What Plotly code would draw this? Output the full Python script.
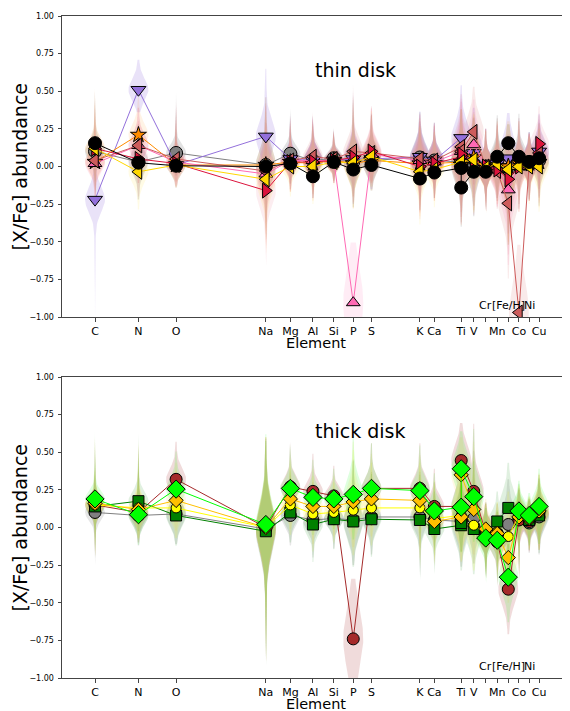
import numpy as np
import plotly.graph_objects as go

# ---------------- data ----------------
elements = ["C", "N", "O", "Na", "Mg", "Al", "Si", "P", "S", "K", "Ca",
            "TiI", "TiII", "V", "Cr", "Mn", "Fe", "Co", "Ni", "Cu"]
atomic_z = [6, 7, 8, 11, 12, 13, 14, 15, 16, 19, 20, 22, 22, 23, 24, 25, 26, 27, 28, 29]
tick_z = [6, 7, 8, 11, 12, 13, 14, 15, 16, 19, 20, 22, 23, 24, 25, 26, 27, 28, 29]
tick_labels = ["C", "N", "O", "Na", "Mg", "Al", "Si", "P", "S", "K", "Ca",
               "Ti", "V", "", "Mn", "", "Co", "", "Cu"]
inner_labels = ["Cr", "[Fe/H]", "Ni"]
inner_label_z = [24, 26, 28]
y_ticks = [-1.0, -0.75, -0.5, -0.25, 0.0, 0.25, 0.5, 0.75, 1.0]

# thin disk series (mean [X/Fe] per element)
thin_gray = [0.10, 0.03, 0.09, 0.01, 0.085, 0.04, 0.055, 0.03, 0.04, 0.06, 0.04, 0.03, 0.00, 0.02, 0.00, 0.04, -0.02, 0.05, 0.03, 0.04]
thin_purple = [-0.22, 0.51, 0.01, 0.20, 0.05, 0.04, 0.04, 0.05, 0.05, 0.065, 0.04, 0.19, 0.03, 0.09, 0.00, 0.02, 0.055, 0.02, 0.03, 0.10]
thin_orange = [0.03, 0.21, 0.01, 0.01, 0.03, 0.02, 0.04, 0.02, 0.04, 0.02, 0.02, 0.03, 0.01, 0.06, -0.01, 0.00, 0.00, 0.02, 0.02, 0.03]
thin_pink = [0.02, 0.14, 0.03, -0.05, 0.04, 0.04, 0.04, -0.905, 0.08, 0.04, 0.03, 0.10, 0.02, 0.145, 0.00, -0.01, -0.155, 0.00, 0.02, 0.06]
thin_indianred = [0.04, 0.14, 0.05, -0.03, 0.04, 0.065, 0.05, 0.10, 0.09, 0.05, 0.04, 0.13, 0.10, 0.23, 0.00, -0.03, -0.245, -0.97, 0.02, 0.09]
thin_crimson = [0.12, 0.05, 0.02, -0.16, 0.03, 0.03, 0.04, 0.06, 0.10, 0.00, 0.02, 0.065, 0.08, 0.03, 0.00, -0.02, -0.085, 0.00, 0.02, 0.15]
thin_gold = [0.12, -0.035, 0.01, -0.085, 0.00, 0.00, 0.03, 0.025, 0.065, -0.035, -0.02, 0.03, 0.03, 0.045, -0.01, 0.02, -0.02, 0.00, 0.00, 0.00]
thin_black = [0.155, 0.025, 0.005, 0.00, 0.02, -0.065, 0.03, -0.02, 0.01, -0.08, -0.04, -0.01, -0.14, -0.035, -0.035, 0.065, 0.155, 0.065, 0.03, 0.055]

# thick disk series
thick_gray = [0.10, 0.08, 0.09, -0.01, 0.08, 0.05, 0.06, 0.05, 0.07, 0.07, 0.05, 0.04, 0.05, 0.06, -0.03, -0.04, 0.02, 0.06, 0.03, 0.07]
thick_brown = [0.15, 0.10, 0.32, 0.00, 0.27, 0.24, 0.21, -0.74, 0.26, 0.26, 0.14, 0.14, 0.445, 0.24, -0.04, -0.095, -0.41, 0.05, 0.04, 0.10]
thick_green = [0.14, 0.175, 0.08, -0.025, 0.10, 0.02, 0.055, 0.04, 0.055, 0.05, -0.01, 0.015, 0.03, -0.01, -0.04, 0.04, 0.13, 0.09, 0.05, 0.08]
thick_yellow = [0.15, 0.13, 0.13, 0.00, 0.15, 0.09, 0.10, 0.115, 0.13, 0.13, 0.06, 0.08, 0.12, 0.015, -0.04, -0.03, -0.06, 0.08, 0.05, 0.10]
thick_gold = [0.16, 0.12, 0.18, 0.00, 0.19, 0.14, 0.14, 0.17, 0.19, 0.18, 0.04, 0.07, 0.35, 0.12, -0.01, -0.04, -0.20, 0.07, 0.06, 0.11]
thick_lime = [0.19, 0.085, 0.255, 0.02, 0.26, 0.20, 0.19, 0.22, 0.26, 0.245, 0.11, 0.135, 0.39, 0.205, -0.07, -0.085, -0.33, 0.11, 0.08, 0.14]

# violin spreads (sigma, extent below, extent above) per element
thin_sigma = [0.06, 0.07, 0.05, 0.10, 0.05, 0.06, 0.04, 0.08, 0.07, 0.08, 0.06, 0.10, 0.10, 0.10, 0.06, 0.07, 0.12, 0.07, 0.06, 0.07]
thin_lo = [0.30, 0.25, 0.15, 0.50, 0.20, 0.25, 0.15, 0.30, 0.20, 0.35, 0.25, 0.40, 0.40, 0.35, 0.30, 0.25, 0.50, 0.30, 0.25, 0.30]
thin_hi = [0.40, 0.25, 0.40, 0.45, 0.30, 0.30, 0.20, 0.45, 0.30, 0.30, 0.25, 0.35, 0.35, 0.30, 0.25, 0.30, 0.30, 0.30, 0.20, 0.25]
thick_sigma = [0.05, 0.06, 0.07, 0.15, 0.06, 0.06, 0.05, 0.10, 0.07, 0.07, 0.06, 0.10, 0.10, 0.10, 0.06, 0.06, 0.10, 0.06, 0.05, 0.07]
thick_lo = [0.35, 0.20, 0.20, 0.90, 0.20, 0.25, 0.20, 0.30, 0.25, 0.40, 0.30, 0.30, 0.30, 0.30, 0.30, 0.30, 0.30, 0.40, 0.20, 0.25]
thick_hi = [0.45, 0.45, 0.25, 0.60, 0.30, 0.25, 0.20, 0.40, 0.30, 0.30, 0.25, 0.25, 0.25, 0.45, 0.20, 0.20, 0.30, 0.20, 0.15, 0.25]
# special wide violins: (series, element) -> (sigma, lo, hi)
thin_special = {("purple", "C"): (0.08, 0.80, 0.30), ("purple", "N"): (0.07, 0.15, 0.20),
                ("pink", "P"): (0.22, 0.10, 0.40), ("indianred", "Co"): (0.20, 0.05, 0.45)}
thick_special = {("brown", "P"): (0.20, 0.30, 0.40)}

# ---------------- styles ----------------
thin_series = [
    ("gray", thin_gray, "rgb(128,128,128)", "circle", 13, 0.22),
    ("purple", thin_purple, "rgb(147,112,219)", "triangle-down", 13, 0.2),
    ("orange", thin_orange, "rgb(255,140,0)", "star", 12, 0.1),
    ("pink", thin_pink, "rgb(255,105,180)", "triangle-up", 12, 0.13),
    ("indianred", thin_indianred, "rgb(205,92,92)", "triangle-left", 13, 0.13),
    ("crimson", thin_crimson, "rgb(220,20,60)", "triangle-right", 13, 0.08),
    ("gold", thin_gold, "rgb(255,215,0)", "triangle-left", 13, 0.1),
    ("black", thin_black, "rgb(0,0,0)", "circle", 13, 0.0),
]
thick_series = [
    ("gray", thick_gray, "rgb(128,128,128)", "circle", 12, 0.2),
    ("brown", thick_brown, "rgb(165,42,42)", "circle", 12, 0.17),
    ("green", thick_green, "rgb(0,128,0)", "square", 11, 0.12),
    ("yellow", thick_yellow, "rgb(255,255,0)", "circle", 10, 0.13),
    ("gold", thick_gold, "rgb(255,192,0)", "diamond", 11, 0.1),
    ("lime", thick_lime, "rgb(0,255,0)", "diamond", 14, 0.13),
]

# page has an 8px body margin: draw in a figure shifted by that offset
OFF = 8
W, H = 570 - OFF, 711 - OFF
PX_PER_DEC = 649.0
x_left_px, x_right_px = 62, 570
c_px = 95.0
log_c = np.log10(6)
xr = [log_c - (c_px - x_left_px) / PX_PER_DEC, log_c + (x_right_px - c_px) / PX_PER_DEC]
half_w = 10.0 / PX_PER_DEC  # violin half width in log units


def rgba(rgb, a):
    return rgb.replace("rgb(", "rgba(").replace(")", ",%.2f)" % a)


def violin_path(values, name, sig, lo, hi, special):
    xs, ys = [], []
    for i, (z, c) in enumerate(zip(atomic_z, values)):
        s, l, h = special.get((name, elements[i]), (sig[i], lo[i], hi[i]))
        yy = np.linspace(c - l, c + h, 60)
        zz = (yy - c) / s
        p = 0.9 * np.exp(-0.5 * zz ** 2) + 0.1 * np.exp(-0.5 * (zz / 3.5) ** 2)
        p = p / p.max()
        lz = np.log10(z)
        xr_ = 10 ** (lz + half_w * p)
        xl_ = 10 ** (lz - half_w * p)
        xs += list(xr_) + list(xl_[::-1]) + [xr_[0], None]
        ys += list(yy) + list(yy[::-1]) + [yy[0], None]
    return xs, ys


fig = go.Figure()
panels = [
    (thin_series, thin_sigma, thin_lo, thin_hi, thin_special, "x", "y"),
    (thick_series, thick_sigma, thick_lo, thick_hi, thick_special, "x2", "y2"),
]
for series, sig, lo, hi, special, xa, ya in panels:
    for name, vals, col, sym, size, alpha in series:
        if alpha <= 0:
            continue
        vx, vy = violin_path(vals, name, sig, lo, hi, special)
        fig.add_trace(go.Scatter(x=vx, y=vy, mode="lines", fill="toself",
                                 fillcolor=rgba(col, alpha), line=dict(width=0),
                                 hoverinfo="skip", showlegend=False, xaxis=xa, yaxis=ya))
    for name, vals, col, sym, size, alpha in series:
        fig.add_trace(go.Scatter(x=atomic_z, y=vals, mode="lines+markers",
                                 line=dict(color=col, width=1),
                                 marker=dict(symbol=sym, size=size, color=col,
                                             line=dict(color="black", width=1)),
                                 showlegend=False, xaxis=xa, yaxis=ya))


def pyy(y):
    return 1 - (y - OFF) / H


def pxx(x):
    return (x - OFF) / W


top_dom = [pyy(317), pyy(16)]
bot_dom = [pyy(678), pyy(377)]
xdom = [pxx(x_left_px), min(1.0, pxx(x_right_px))]

axis_common = dict(showline=True, linecolor="#444", linewidth=1, ticks="outside",
                   ticklen=3.5, tickcolor="#444", showgrid=False, zeroline=False,
                   automargin=False)
xaxis = dict(type="log", range=xr, tickvals=tick_z, ticktext=tick_labels,
             tickfont=dict(size=11, color="black", family="DejaVu Sans"),
             ticklabelstandoff=0, mirror=True, domain=xdom, **axis_common)
yaxis = dict(range=[-1, 1], tickvals=y_ticks,
             ticktext=[("%.2f" % v).replace("-", "\u2212") for v in y_ticks],
             tickfont=dict(size=8, color="black", family="DejaVu Sans"),
             ticklabelstandoff=2, **axis_common)

fig.update_layout(
    width=W, height=H, margin=dict(l=0, r=0, t=0, b=0, autoexpand=False),
    paper_bgcolor="white", plot_bgcolor="white",
    font=dict(family="DejaVu Sans", color="black"),
    xaxis=dict(anchor="y", **xaxis),
    yaxis=dict(anchor="x", domain=top_dom, **yaxis),
    xaxis2=dict(anchor="y2", **xaxis),
    yaxis2=dict(anchor="x2", domain=bot_dom, **yaxis),
)

annotations = []
for ytop, ybot, label, xa, ya in [(16, 317, "thin disk", "x", "y"), (377, 678, "thick disk", "x2", "y2")]:
    mid = (ytop + ybot) / 2
    annotations.append(dict(text="[X/Fe] abundance", x=pxx(19), y=pyy(mid), xref="paper", yref="paper",
                            xanchor="center", yanchor="middle",
                            textangle=-90, showarrow=False, font=dict(size=19)))
    annotations.append(dict(text="Element", x=pxx((x_left_px + x_right_px) / 2), y=pyy(ybot + 26),
                            xref="paper", yref="paper", xanchor="center", yanchor="middle",
                            showarrow=False, font=dict(size=14.5)))
    annotations.append(dict(text=label, x=pxx(313), y=pyy(ytop + 54), xref="paper", yref="paper",
                            xanchor="left", yanchor="middle", showarrow=False, font=dict(size=19)))
    for lab, z in zip(inner_labels, inner_label_z):
        annotations.append(dict(text=lab, x=np.log10(z), y=-0.925, xref=xa, yref=ya,
                                xanchor="center", yanchor="middle",
                                showarrow=False, font=dict(size=11)))
fig.update_layout(annotations=annotations)

fig.write_html("out.html")
